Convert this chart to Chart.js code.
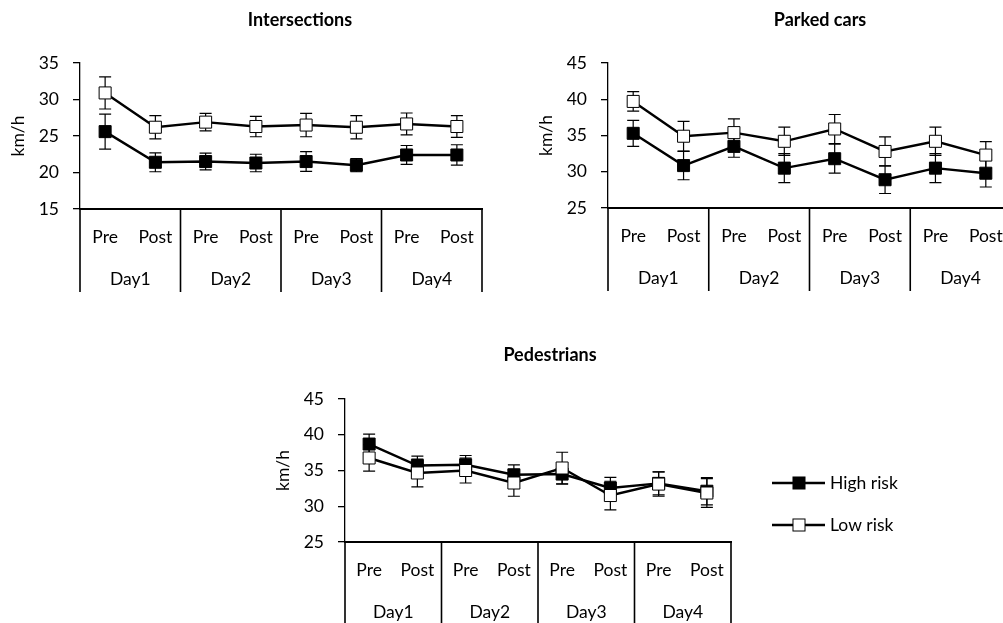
<!DOCTYPE html>
<html lang="en">
<head>
<meta charset="UTF-8">
<title>Speed by risk group</title>
<style>
  html, body { margin: 0; padding: 0; background: #fff; overflow: hidden; }
  canvas { position: absolute; }
</style>
<script src="https://cdn.jsdelivr.net/npm/chart.js"></script>
</head>
<body>
<canvas id="inter" width="500" height="300" style="left:0;top:0"></canvas>
<canvas id="parked" width="500" height="300" style="left:528px;top:0"></canvas>
<canvas id="ped" width="640" height="295" style="left:265px;top:330px"></canvas>

<script>
  const phases = ['Pre', 'Post', 'Pre', 'Post', 'Pre', 'Post', 'Pre', 'Post'];
  const days = ['Day1', 'Day2', 'Day3', 'Day4'];
  const seriesNames = ['High risk', 'Low risk'];

  // Intersections
  const interHigh    = [25.6, 21.4, 21.5, 21.3, 21.5, 21.0, 22.4, 22.4];
  const interHighErr = [2.4, 1.3, 1.15, 1.2, 1.35, 0.9, 1.3, 1.4];
  const interLow     = [30.9, 26.2, 26.9, 26.3, 26.5, 26.2, 26.65, 26.3];
  const interLowErr  = [2.2, 1.6, 1.2, 1.4, 1.6, 1.6, 1.5, 1.5];

  // Parked cars
  const parkedHigh    = [35.3, 30.85, 33.5, 30.5, 31.8, 28.9, 30.5, 29.8];
  const parkedHighErr = [1.8, 1.95, 1.5, 2.0, 2.0, 1.9, 2.0, 1.9];
  const parkedLow     = [39.7, 34.9, 35.4, 34.2, 35.9, 32.8, 34.2, 32.3];
  const parkedLowErr  = [1.35, 2.05, 1.9, 1.95, 2.0, 2.0, 1.95, 1.85];

  // Pedestrians
  const pedHigh    = [38.7, 35.7, 35.8, 34.4, 34.5, 32.55, 33.2, 32.1];
  const pedHighErr = [1.4, 1.3, 1.3, 1.4, 1.4, 1.5, 1.6, 1.9];
  const pedLow     = [36.75, 34.65, 35.0, 33.25, 35.35, 31.5, 33.1, 31.85];
  const pedLowErr  = [1.85, 1.95, 1.75, 1.85, 2.2, 2.0, 1.7, 2.0];

  const FONT = 'Lato';
  const SIZE = 17.5;
  const MARK = 8.5;
  Chart.defaults.font.family = FONT;
  Chart.defaults.color = '#000';

  const errorBars = {
    id: 'errorBars',
    beforeDatasetsDraw(chart) {
      const {ctx, scales: {x, y}} = chart;
      ctx.save();
      ctx.strokeStyle = '#000';
      ctx.lineWidth = 1.2;
      chart.data.datasets.forEach(ds => {
        ds.data.forEach((v, i) => {
          const px = x.getPixelForValue(i);
          const top = y.getPixelForValue(v + ds.errors[i]);
          const bot = y.getPixelForValue(v - ds.errors[i]);
          ctx.beginPath();
          ctx.moveTo(px, top); ctx.lineTo(px, bot);
          ctx.moveTo(px - 6, top); ctx.lineTo(px + 6, top);
          ctx.moveTo(px - 6, bot); ctx.lineTo(px + 6, bot);
          ctx.stroke();
        });
      });
      ctx.restore();
    }
  };

  // second row of the category axis: day groups and their dividers
  const dayAxis = {
    id: 'dayAxis',
    afterDraw(chart) {
      const {ctx, scales: {x}} = chart;
      const edges = [x.left];
      for (let k = 1; k < days.length; k++) {
        edges.push((x.getPixelForValue(2 * k - 1) + x.getPixelForValue(2 * k)) / 2);
      }
      edges.push(x.right);
      ctx.save();
      ctx.strokeStyle = '#000';
      ctx.lineWidth = 1.6;
      ctx.beginPath();
      edges.forEach(e => { ctx.moveTo(e, x.top); ctx.lineTo(e, x.bottom); });
      ctx.stroke();
      ctx.font = SIZE + 'px ' + FONT;
      ctx.fillStyle = '#000';
      ctx.textAlign = 'center';
      ctx.textBaseline = 'middle';
      days.forEach((d, k) => ctx.fillText(d, (edges[k] + edges[k + 1]) / 2, x.top + 70));
      ctx.restore();
    }
  };

  const panelTitle = {
    id: 'panelTitle',
    afterDraw(chart, args, opts) {
      const ctx = chart.ctx;
      ctx.save();
      ctx.font = 'bold 18px ' + FONT;
      ctx.fillStyle = '#000';
      ctx.textAlign = 'center';
      ctx.textBaseline = 'middle';
      ctx.fillText(opts.text, opts.x, opts.y);
      ctx.restore();
    }
  };

  const sideLegend = {
    id: 'sideLegend',
    afterDraw(chart) {
      const {ctx, chartArea} = chart;
      const x0 = chartArea.right + 41;
      const side = MARK * Math.SQRT2;
      ctx.save();
      ctx.font = SIZE + 'px ' + FONT;
      ctx.textBaseline = 'middle';
      chart.data.datasets.forEach((ds, i) => {
        const yy = chartArea.top + 84 + i * 42;
        ctx.strokeStyle = '#000';
        ctx.lineWidth = 2.3;
        ctx.beginPath();
        ctx.moveTo(x0, yy); ctx.lineTo(x0 + 53, yy);
        ctx.stroke();
        ctx.fillStyle = ds.pointBackgroundColor;
        ctx.fillRect(x0 + 27 - side / 2, yy - side / 2, side, side);
        ctx.lineWidth = 1;
        ctx.strokeRect(x0 + 27 - side / 2, yy - side / 2, side, side);
        ctx.fillStyle = '#000';
        ctx.fillText(ds.label, x0 + 58, yy);
      });
      ctx.restore();
    }
  };

  function series(label, data, errors, fill, order) {
    return {
      label, data, errors, order,
      borderColor: '#000',
      borderWidth: 2.4,
      pointStyle: 'rect',
      pointRadius: MARK,
      pointBackgroundColor: fill,
      pointBorderColor: '#000',
      pointBorderWidth: 1
    };
  }

  function makeChart(id, title, high, highErr, low, lowErr, yMin, yMax, padding, extra) {
    return new Chart(document.getElementById(id), {
      type: 'line',
      data: {
        labels: phases,
        datasets: [
          series(seriesNames[0], high, highErr, '#000', 1),
          series(seriesNames[1], low, lowErr, '#fff', 0)
        ]
      },
      options: {
        responsive: false,
        animation: false,
        layout: { padding },
        plugins: {
          legend: { display: false },
          tooltip: { enabled: false },
          panelTitle: title
        },
        scales: {
          x: {
            offset: true,
            grid: { display: false, drawTicks: false },
            border: { color: '#000', width: 2 },
            ticks: { font: { size: SIZE }, padding: 18, maxRotation: 0, autoSkip: false },
            afterFit: s => { s.height = 83; }
          },
          y: {
            min: yMin, max: yMax,
            ticks: { stepSize: 5, font: { size: SIZE }, padding: 14 },
            grid: { drawOnChartArea: false, tickLength: 7, color: '#000', lineWidth: 1.3 },
            border: { color: '#000', width: 1.3 },
            title: { display: true, text: 'km/h', font: { size: SIZE }, padding: { top: 8, bottom: 0 } },
            afterFit: s => { s.width = 80; }
          }
        }
      },
      plugins: [errorBars, dayAxis, panelTitle].concat(extra || [])
    });
  }

  makeChart('inter', { text: 'Intersections', x: 300, y: 20 },
    interHigh, interHighErr, interLow, interLowErr, 15, 35,
    { top: 63, bottom: 8, left: 0, right: 18 });

  makeChart('parked', { text: 'Parked cars', x: 292, y: 20 },
    parkedHigh, parkedHighErr, parkedLow, parkedLowErr, 25, 45,
    { top: 63, bottom: 9, left: 0, right: 17 });

  makeChart('ped', { text: 'Pedestrians', x: 285, y: 25 },
    pedHigh, pedHighErr, pedLow, pedLowErr, 25, 45,
    { top: 69, bottom: 0, left: 0, right: 174 }, [sideLegend]);
</script>
</body>
</html>
